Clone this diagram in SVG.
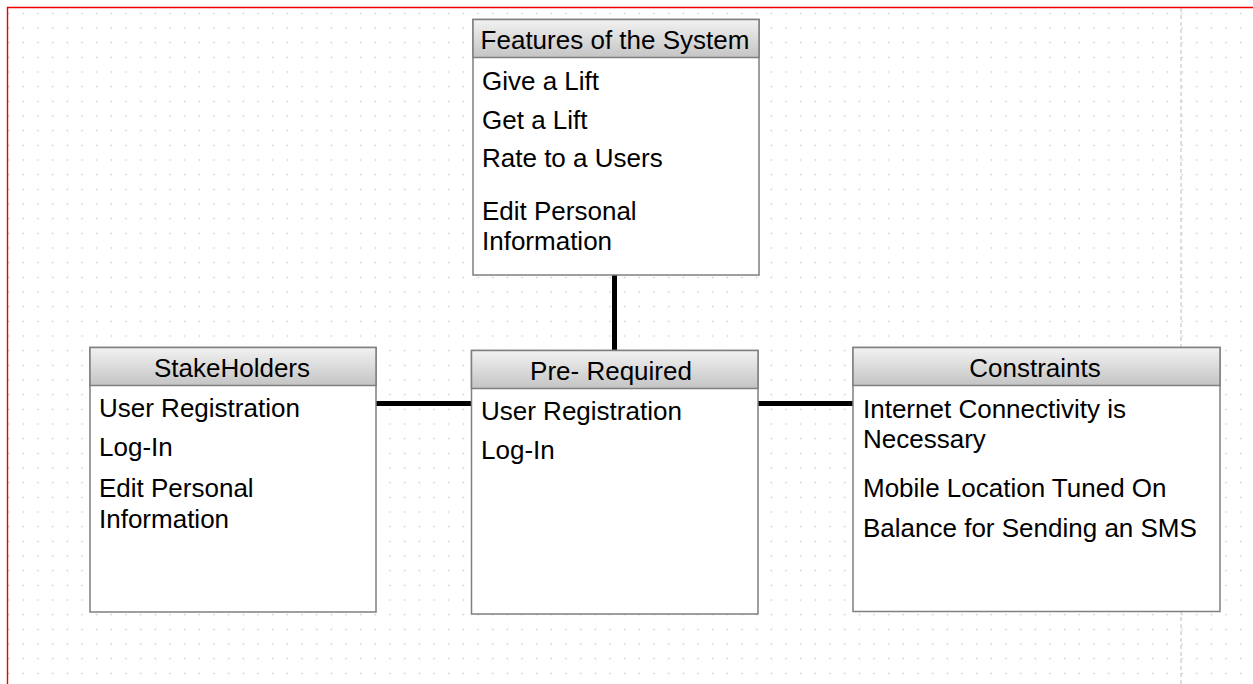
<svg xmlns="http://www.w3.org/2000/svg" width="1253" height="684" viewBox="0 0 1253 684">
  <defs>
    <!-- dotted drawing grid -->
    <pattern id="grid" patternUnits="userSpaceOnUse" x="1.37" y="5.97" width="14.667" height="14.667">
      <circle cx="7.33" cy="7.33" r="0.85" fill="#c4c4c4"/>
    </pattern>
    <linearGradient id="hdr" x1="0" y1="0" x2="0" y2="1">
      <stop offset="0" stop-color="#f2f2f2"/>
      <stop offset="1" stop-color="#c4c4c4"/>
    </linearGradient>
    <style>
      .box { fill: #ffffff; stroke: #7f7f7f; stroke-width: 1.5; }
      .head { fill: url(#hdr); stroke: #7f7f7f; stroke-width: 1.5; }
      .t { font-family: "Liberation Sans", Arial, sans-serif; font-size: 26px; fill: #000000; }
      .c { text-anchor: middle; }
      .link { stroke: #000000; stroke-width: 5; fill: none; }
    </style>
  </defs>

  <!-- page background -->
  <rect x="0" y="0" width="1253" height="684" fill="#ffffff"/>
  <rect x="8" y="8" width="1245" height="676" fill="url(#grid)"/>
  <line x1="1181" y1="8" x2="1181" y2="684" stroke="#c8c8c8" stroke-width="1.2" stroke-dasharray="4 3"/>
  <!-- page margin -->
  <line x1="7" y1="7.5" x2="1253" y2="7.5" stroke="#f00000" stroke-width="1.4"/>
  <line x1="7.5" y1="7" x2="7.5" y2="684" stroke="#f00000" stroke-width="1.4"/>

  <!-- connectors -->
  <g id="connectors">
    <line class="link" x1="614.5" y1="275" x2="614.5" y2="350"/>
    <line class="link" x1="376" y1="403.5" x2="471.5" y2="403.5"/>
    <line class="link" x1="758" y1="403.5" x2="853" y2="403.5"/>
  </g>

  <!-- Features of the System -->
  <g id="features">
    <rect class="box" x="473" y="19.5" width="286" height="255.5"/>
    <rect class="head" x="473" y="19.5" width="286" height="38"/>
    <text class="t c" x="615" y="49">Features of the System</text>
    <text class="t" x="482" y="90">Give a Lift</text>
    <text class="t" x="482" y="129">Get a Lift</text>
    <text class="t" x="482" y="167">Rate to a Users</text>
    <text class="t" x="482" y="220">Edit Personal</text>
    <text class="t" x="482" y="250">Information</text>
  </g>

  <!-- StakeHolders -->
  <g id="stakeholders">
    <rect class="box" x="90" y="347.5" width="286" height="264.5"/>
    <rect class="head" x="90" y="347.5" width="286" height="38"/>
    <text class="t c" x="232" y="377">StakeHolders</text>
    <text class="t" x="99" y="417">User Registration</text>
    <text class="t" x="99" y="456">Log-In</text>
    <text class="t" x="99" y="497">Edit Personal</text>
    <text class="t" x="99" y="528">Information</text>
  </g>

  <!-- Pre- Required -->
  <g id="prerequired">
    <rect class="box" x="471.5" y="350.5" width="286.5" height="263.5"/>
    <rect class="head" x="471.5" y="350.5" width="286.5" height="38"/>
    <text class="t c" x="611" y="380">Pre- Required</text>
    <text class="t" x="481" y="420">User Registration</text>
    <text class="t" x="481" y="459">Log-In</text>
  </g>

  <!-- Constraints -->
  <g id="constraints">
    <rect class="box" x="853" y="347.5" width="367" height="264"/>
    <rect class="head" x="853" y="347.5" width="367" height="38"/>
    <text class="t c" x="1035" y="377">Constraints</text>
    <text class="t" x="863" y="418">Internet Connectivity is</text>
    <text class="t" x="863" y="448">Necessary</text>
    <text class="t" x="863" y="497">Mobile Location Tuned On</text>
    <text class="t" x="863" y="537">Balance for Sending an SMS</text>
  </g>
</svg>
